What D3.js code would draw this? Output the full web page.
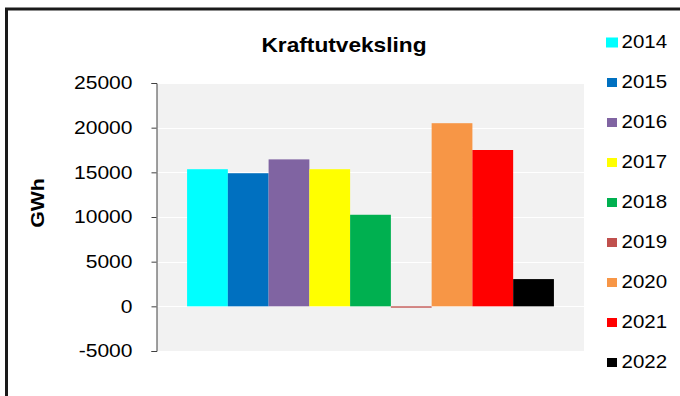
<!DOCTYPE html>
<html>
<head>
<meta charset="utf-8">
<script src="https://cdn.jsdelivr.net/npm/d3@7"></script>
<style>
  html, body { margin: 0; padding: 0; background: #fff; }
  svg { display: block; font-family: 'Liberation Sans', Arial, sans-serif; }
</style>
</head>
<body>
<svg id="chart" width="680" height="396"></svg>
<script>
// data
const categories = ['Kraftutveksling'];
const years = ['2014', '2015', '2016', '2017', '2018', '2019', '2020', '2021', '2022'];
const values = [15350, 14900, 16450, 15350, 10250, -150, 20500, 17500, 3050];
const yTicks = [-5000, 0, 5000, 10000, 15000, 20000, 25000];
const palette = ['#00ffff', '#0070c0', '#8064a2', '#ffff00', '#00b050', '#c0504d', '#f79646', '#ff0000', '#000000'];

const svg = d3.select('#chart');
const width = 680;
const height = 396;
const plot = { left: 157, right: 584, top: 83, bottom: 351 };
const sx = 1.17; // text in the original is a bit wide

// outer frame (runs off the right and bottom)
svg.append('rect')
  .attr('x', 6.5).attr('y', 9)
  .attr('width', width + 20).attr('height', height + 20)
  .attr('fill', 'none')
  .attr('stroke', '#1a1a1a')
  .attr('stroke-width', 3);

const y = d3.scaleLinear()
  .domain([-5000, 25000])
  .range([plot.bottom, plot.top]);

const x0 = d3.scaleBand()
  .domain(categories)
  .range([plot.left, plot.right])
  .paddingInner(0)
  .paddingOuter(0.082);

const x1 = d3.scaleBand()
  .domain(years)
  .range([0, x0.bandwidth()])
  .padding(0);

const color = d3.scaleOrdinal().domain(years).range(palette);

// plot background
svg.append('rect')
  .attr('x', plot.left).attr('y', plot.top)
  .attr('width', plot.right - plot.left)
  .attr('height', plot.bottom - plot.top)
  .attr('fill', '#f2f2f2');

// gridlines
svg.append('g')
  .selectAll('line')
  .data(yTicks)
  .join('line')
  .attr('x1', plot.left).attr('x2', plot.right)
  .attr('y1', (d) => Math.round(y(d)) + 0.5)
  .attr('y2', (d) => Math.round(y(d)) + 0.5)
  .attr('stroke', '#ffffff')
  .attr('stroke-width', 1);

// bars
const rows = years.map((yr, i) => ({ cat: categories[0], year: yr, value: values[i] }));
svg.append('g')
  .selectAll('rect')
  .data(rows)
  .join('rect')
  .attr('x', (d) => x0(d.cat) + x1(d.year))
  .attr('y', (d) => y(Math.max(0, d.value)))
  .attr('width', x1.bandwidth())
  .attr('height', (d) => Math.abs(y(d.value) - y(0)))
  .attr('fill', (d) => color(d.year));

// y axis
const yAxis = svg.append('g')
  .attr('transform', `translate(${plot.left - 0.5},0)`)
  .call(d3.axisLeft(y).tickValues(yTicks).tickFormat((d) => String(d)).tickSize(5).tickSizeOuter(5).tickPadding(19));
yAxis.select('.domain').attr('stroke', '#404040');
yAxis.selectAll('.tick line').attr('stroke', '#404040');
yAxis.selectAll('.tick text')
  .attr('fill', '#000')
  .attr('font-size', 18)
  .attr('x', -24 / sx)
  .attr('transform', `scale(${sx},1)`);

// title
svg.append('text')
  .attr('transform', `translate(344,52) scale(${sx * 0.97},1)`)
  .attr('text-anchor', 'middle')
  .attr('font-size', 20)
  .attr('font-weight', 'bold')
  .attr('fill', '#000')
  .text('Kraftutveksling');

// y label
svg.append('text')
  .attr('transform', `translate(44,203) rotate(-90) scale(${sx * 0.96},1)`)
  .attr('text-anchor', 'middle')
  .attr('font-size', 19)
  .attr('font-weight', 'bold')
  .attr('fill', '#000')
  .text('GWh');

// legend
const legend = svg.append('g')
  .selectAll('g')
  .data(years)
  .join('g')
  .attr('transform', (d, i) => `translate(606,${42.5 + i * 40})`);

legend.append('rect')
  .attr('x', (d, i) => (i === 0 ? 0 : 1))
  .attr('y', (d, i) => (i === 0 ? -5 : -4.5))
  .attr('width', (d, i) => (i === 0 ? 12 : 10))
  .attr('height', (d, i) => (i === 0 ? 10 : 9))
  .attr('fill', (d) => color(d));

legend.append('text')
  .attr('transform', `translate(15.5,5.5) scale(${sx},1)`)
  .attr('font-size', 17.5)
  .attr('fill', '#000')
  .text((d) => d);
</script>
</body>
</html>
